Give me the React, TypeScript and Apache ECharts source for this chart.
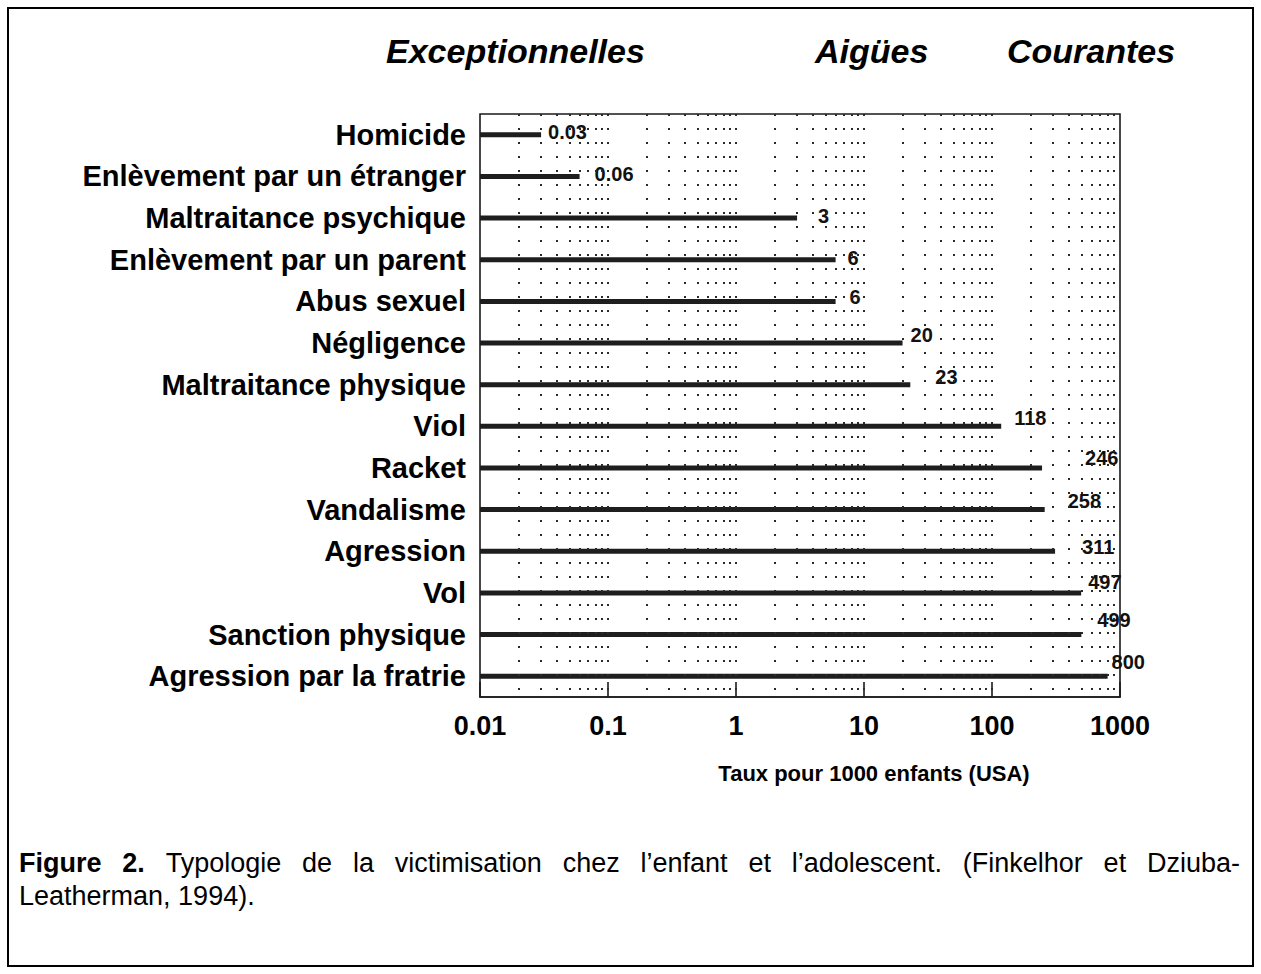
import React, { useEffect, useRef } from "react";
import * as echarts from "echarts";

const categories = [
  "Homicide",
  "Enlèvement par un étranger",
  "Maltraitance psychique",
  "Enlèvement par un parent",
  "Abus sexuel",
  "Négligence",
  "Maltraitance physique",
  "Viol",
  "Racket",
  "Vandalisme",
  "Agression",
  "Vol",
  "Sanction physique",
  "Agression par la fratrie",
];
const rates = [0.03, 0.06, 3, 6, 6, 20, 23, 118, 246, 258, 311, 497, 499, 800];
const rateLabels = ["0.03", "0.06", "3", "6", "6", "20", "23", "118", "246", "258", "311", "497", "499", "800"];
const tickLabels = ["0.01", "0.1", "1", "10", "100", "1000"];
const groupTitles = ["Exceptionnelles", "Aigües", "Courantes"];
const axisTitle = "Taux pour 1000 enfants (USA)";
const captionBold = ["Figure", "2."];
const captionLine1 = ["Typologie", "de", "la", "victimisation", "chez", "l\u2019enfant", "et", "l\u2019adolescent.", "(Finkelhor", "et", "Dziuba-"];
const captionLine2 = "Leatherman, 1994).";

// label nudges (style only)
const labelNudge: [number, number][] = [
  [7, -3], [15, -2], [21, -2], [12, -2], [14, -4], [8, -8], [25, -8],
  [13, -8], [43, -10], [23, -9], [27, -4], [7, -11], [16, -15], [4, -14],
];

const FONT = '"Liberation Sans", Arial, Helvetica, sans-serif';

function measure(text: string, bold: boolean, size: number): number {
  const c = document.createElement("canvas").getContext("2d");
  if (!c) return text.length * size * 0.5;
  c.font = `${bold ? "bold " : ""}${size}px ${FONT}`;
  return c.measureText(text).width;
}

export default function App() {
  const ref = useRef<HTMLDivElement>(null);
  useEffect(() => {
    if (!ref.current) return;
    const chart = echarts.init(ref.current, undefined, { renderer: "svg" });

    // minor dotted grid values (2..10 within each decade)
    const minorValues: number[] = [];
    for (let e = -2; e <= 2; e++) {
      for (let k = 2; k <= 10; k++) {
        const v = k * Math.pow(10, e);
        if (v < 1000) minorValues.push(parseFloat(v.toPrecision(6)));
      }
    }

    // justified caption line 1
    const capSize = 27;
    const words = [
      ...captionBold.map((t) => ({ t, b: true })),
      ...captionLine1.map((t) => ({ t, b: false })),
    ];
    const widths = words.map((w) => measure(w.t, w.b, capSize));
    const xStart = 19;
    const xEnd = 1240;
    const total = widths.reduce((a, b) => a + b, 0);
    const gap = (xEnd - xStart - total) / (words.length - 1);
    let cx = xStart;
    const captionEls: any[] = words.map((w, i) => {
      const el = {
        type: "text",
        x: cx,
        y: 863,
        style: {
          text: w.t,
          font: `${w.b ? "bold " : ""}${capSize}px ${FONT}`,
          fill: "#000",
          textAlign: "left",
          textVerticalAlign: "middle",
        },
      };
      cx += widths[i] + gap;
      return el;
    });
    captionEls.push({
      type: "text",
      x: xStart,
      y: 896,
      style: {
        text: captionLine2,
        font: `${capSize}px ${FONT}`,
        fill: "#000",
        textAlign: "left",
        textVerticalAlign: "middle",
      },
    });

    const titleX = [386, 815, 1007];

    const option: any = {
      animation: false,
      backgroundColor: "#fff",
      grid: {
        left: 480,
        right: 141,
        top: 114,
        bottom: 277,
        show: true,
        borderColor: "#1a1a1a",
        borderWidth: 1.6,
        containLabel: false,
      },
      xAxis: {
        type: "log",
        logBase: 10,
        min: 0.01,
        max: 1000,
        startValue: 0.01,
        axisLine: { show: true, lineStyle: { color: "#1a1a1a", width: 1.6 } },
        axisTick: { show: true, inside: true, length: 15, lineStyle: { color: "#1a1a1a", width: 1.6 } },
        splitLine: { show: false },
        minorTick: { show: false },
        minorSplitLine: { show: false },
        axisLabel: {
          margin: 15,
          fontFamily: FONT,
          fontWeight: "bold",
          fontSize: 27,
          color: "#000",
          formatter: (v: number) => {
            const i = Math.round(Math.log10(v)) + 2;
            return tickLabels[i] ?? "";
          },
        },
      },
      yAxis: {
        type: "category",
        inverse: true,
        data: categories,
        axisLine: { show: false },
        axisTick: { show: false },
        splitLine: { show: false },
        axisLabel: {
          margin: 14,
          fontFamily: FONT,
          fontWeight: "bold",
          fontSize: 29,
          color: "#000",
        },
      },
      series: [
        {
          type: "line",
          data: [],
          z: 1,
          silent: true,
          markLine: {
            silent: true,
            symbol: "none",
            label: { show: false },
            lineStyle: { color: "#2a2a2a", width: 2, type: [2, 12] },
            data: minorValues.map((v) => ({ xAxis: v })),
          },
        },
        {
          type: "bar",
          z: 3,
          barWidth: 5,
          itemStyle: { color: "#1e1e1e" },
          data: rates.map((v, i) => ({
            value: v,
            label: { offset: labelNudge[i] },
          })),
          label: {
            show: true,
            position: "right",
            distance: 0,
            fontFamily: FONT,
            fontWeight: "bold",
            fontSize: 20,
            color: "#111",
            formatter: (p: any) => rateLabels[p.dataIndex],
          },
        },
      ],
      graphic: [
        {
          type: "rect",
          shape: { x: 8, y: 8, width: 1245, height: 958 },
          style: { fill: "none", stroke: "#000", lineWidth: 2 },
          silent: true,
        },
        ...groupTitles.map((t, i) => ({
          type: "text",
          x: titleX[i],
          y: 51,
          style: {
            text: t,
            font: `italic bold 34px ${FONT}`,
            fill: "#000",
            textAlign: "left",
            textVerticalAlign: "middle",
          },
        })),
        {
          type: "text",
          x: 874,
          y: 773,
          style: {
            text: axisTitle,
            font: `bold 22px ${FONT}`,
            fill: "#000",
            textAlign: "center",
            textVerticalAlign: "middle",
          },
        },
        ...captionEls,
      ],
    };
    chart.setOption(option);
    return () => chart.dispose();
  }, []);
  return (
    <div
      ref={ref}
      style={{ position: "absolute", left: 0, top: 0, width: 1261, height: 974 }}
    />
  );
}
